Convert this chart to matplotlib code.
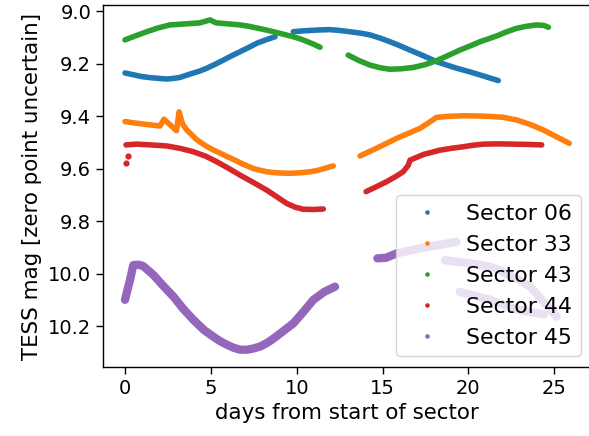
import matplotlib
matplotlib.use('Agg')
import matplotlib.pyplot as plt
from matplotlib.lines import Line2D

# Sector 06
s06_t1 = [0.0, 0.5, 1.0, 1.5, 2.04, 2.43, 2.8, 3.2, 3.79, 4.3, 4.76, 5.25, 5.73, 6.2, 6.7, 7.2, 7.67, 8.2, 8.74]
s06_m1 = [9.236, 9.243, 9.250, 9.254, 9.257, 9.259, 9.257, 9.253, 9.240, 9.230, 9.218, 9.203, 9.187,
          9.171, 9.155, 9.139, 9.123, 9.110, 9.098]
s06_t2 = [9.8, 10.3, 10.8, 11.4, 11.94, 12.5, 13.1, 13.7, 14.27, 14.85, 15.43, 16.0, 16.6, 17.4,
          18.15, 18.7, 19.32, 20.1, 21.0, 21.74]
s06_m2 = [9.079, 9.076, 9.074, 9.072, 9.071, 9.074, 9.079, 9.084, 9.091, 9.103, 9.117, 9.132, 9.149,
          9.171, 9.193, 9.205, 9.218, 9.232, 9.250, 9.265]

# Sector 33
s33_t1 = [0.0, 0.5, 1.0, 1.5, 2.04, 2.27, 2.6, 3.0, 3.15, 3.35, 3.59, 3.9, 4.17, 4.76, 5.1, 5.5, 5.9, 6.3,
          6.9, 7.47, 7.9, 8.25, 8.6, 9.0, 9.6, 10.0, 10.4, 10.8, 11.16, 11.6, 12.13]
s33_m1 = [9.421, 9.426, 9.430, 9.434, 9.438, 9.412, 9.432, 9.456, 9.384, 9.430, 9.453, 9.472, 9.490,
          9.516, 9.528, 9.540, 9.553, 9.565, 9.584, 9.600, 9.607, 9.612, 9.615, 9.617, 9.618, 9.617,
          9.615, 9.612, 9.608, 9.600, 9.590]
s33_t2 = [13.69, 14.25, 14.8, 15.3, 15.82, 16.5, 17.18, 17.7, 18.15, 18.9, 19.7, 20.68, 21.4, 22.03,
          22.81, 23.6, 24.36, 25.1, 25.88]
s33_m2 = [9.552, 9.535, 9.518, 9.502, 9.485, 9.466, 9.447, 9.425, 9.405, 9.401, 9.399, 9.400, 9.402,
          9.405, 9.415, 9.432, 9.453, 9.478, 9.504]

# Sector 43
s43_t1 = [0.0, 0.6, 1.26, 1.9, 2.62, 3.1, 3.5, 4.0, 4.37, 4.95, 5.3, 6.0, 6.7, 7.2, 7.7, 8.2, 8.64, 9.2,
          9.8, 10.2, 10.6, 11.0, 11.36]
s43_m1 = [9.110, 9.095, 9.079, 9.065, 9.053, 9.051, 9.049, 9.047, 9.045, 9.034, 9.045, 9.049, 9.053,
          9.058, 9.065, 9.072, 9.079, 9.088, 9.098, 9.106, 9.116, 9.127, 9.138]
s43_t2 = [13.0, 13.6, 14.27, 14.85, 15.43, 16.1, 16.79, 17.5, 18.15, 18.8, 19.5, 20.1, 20.68, 21.65,
          22.2, 22.81, 23.4, 23.98, 24.4, 24.66]
s43_m2 = [9.168, 9.188, 9.206, 9.216, 9.222, 9.220, 9.215, 9.204, 9.189, 9.170, 9.149, 9.133, 9.117,
          9.095, 9.080, 9.066, 9.058, 9.053, 9.055, 9.062]

# Sector 44
s44_t0 = [0.06, 0.19]
s44_m0 = [9.577, 9.553]
s44_t1 = [0.06, 0.68, 1.5, 2.43, 3.2, 3.98, 4.7, 5.34, 6.0, 6.7, 7.5, 8.25, 8.85, 9.42, 9.9, 10.38, 11.0, 11.55]
s44_m1 = [9.510, 9.507, 9.510, 9.514, 9.523, 9.536, 9.553, 9.574, 9.598, 9.625, 9.654, 9.682, 9.708,
          9.733, 9.747, 9.755, 9.756, 9.754]
s44_t2 = [14.04, 14.65, 15.24, 15.75, 16.21, 16.5, 16.6, 17.4, 18.35, 19.0, 19.7, 20.3, 20.87, 21.7,
          22.6, 23.4, 24.27]
s44_m2 = [9.688, 9.669, 9.650, 9.631, 9.612, 9.587, 9.568, 9.546, 9.530, 9.523, 9.517, 9.511, 9.507,
          9.506, 9.507, 9.508, 9.510]

# Sector 45
s45_t1 = [0.0, 0.15, 0.29, 0.48, 0.8, 1.07, 1.65, 2.2, 2.81, 3.4, 3.98, 4.6, 5.14, 5.5, 5.9, 6.3,
          6.7, 7.1, 7.5, 7.9, 8.25, 8.6, 9.0, 9.4, 9.8, 10.4, 10.97, 11.6, 12.23]
s45_m1 = [10.100, 10.060, 10.025, 9.968, 9.966, 9.972, 10.005, 10.045, 10.087, 10.135, 10.176, 10.215,
          10.240, 10.256, 10.270, 10.282, 10.290, 10.290, 10.285, 10.277, 10.265, 10.250, 10.230,
          10.210, 10.190, 10.145, 10.100, 10.070, 10.050]
s45_t2 = [14.7, 15.2, 15.82, 16.6, 17.5, 18.4, 19.3]
s45_m2 = [9.942, 9.940, 9.923, 9.912, 9.900, 9.890, 9.879]
s45_t3 = [18.64, 19.3, 20.0, 20.6, 21.26, 21.9, 22.5, 23.1, 23.6, 24.0, 24.4, 24.8, 25.14]
s45_m3 = [9.949, 9.955, 9.960, 9.966, 9.974, 9.990, 10.010, 10.030, 10.050, 10.078, 10.110, 10.138, 10.164]
s45_t4 = [19.5, 20.4, 21.26, 22.1, 23.0, 23.7, 24.4]
s45_m4 = [10.069, 10.085, 10.100, 10.120, 10.139, 10.148, 10.155]

colors = ['tab:blue', 'tab:orange', 'tab:green', 'tab:red', 'tab:purple']
labels = ['Sector 06', 'Sector 33', 'Sector 43', 'Sector 44', 'Sector 45']

fig = plt.figure(figsize=(5.89, 4.36), dpi=100)
ax = fig.add_axes([102.7/589, 1 - 367.3/436, (592 - 102.7)/589, (367.3 - 4.7)/436])

kw = dict(lw=4.0, solid_capstyle='round', solid_joinstyle='round')
ax.plot(s06_t1, s06_m1, color=colors[0], **kw)
ax.plot(s06_t2, s06_m2, color=colors[0], **kw)
ax.plot(s33_t1, s33_m1, color=colors[1], **kw)
ax.plot(s33_t2, s33_m2, color=colors[1], **kw)
ax.plot(s43_t1, s43_m1, color=colors[2], **kw)
ax.plot(s43_t2, s43_m2, color=colors[2], **kw)
ax.plot(s44_t0, s44_m0, 'o', ms=4.5, mew=0, color=colors[3])
ax.plot(s44_t1, s44_m1, color=colors[3], **kw)
ax.plot(s44_t2, s44_m2, color=colors[3], **kw)
kw45 = dict(kw, lw=6.0)
ax.plot(s45_t1, s45_m1, color=colors[4], **kw45)
ax.plot(s45_t2, s45_m2, color=colors[4], **kw45)
ax.plot(s45_t3, s45_m3, color=colors[4], **kw45)
ax.plot(s45_t4, s45_m4, color=colors[4], **kw45)

ax.set_xlim(-1.3, 27.2)
ax.set_ylim(10.357, 8.976)
ax.set_xticks([0, 5, 10, 15, 20, 25])
ax.set_yticks([9.0, 9.2, 9.4, 9.6, 9.8, 10.0, 10.2])
ax.tick_params(labelsize=14, length=4.8, width=1.0)
for sp in ax.spines.values():
    sp.set_linewidth(1.0)
ax.set_xlabel('days from start of sector', fontsize=15.4)
ax.set_ylabel('TESS mag [zero point uncertain]', fontsize=15.4)

handles = [Line2D([], [], ls='', marker='o', ms=3.3, mew=0, color=c) for c in colors]
ax.legend(handles, labels, loc='lower right', fontsize=15.8)

fig.savefig('out.png', dpi=100)
